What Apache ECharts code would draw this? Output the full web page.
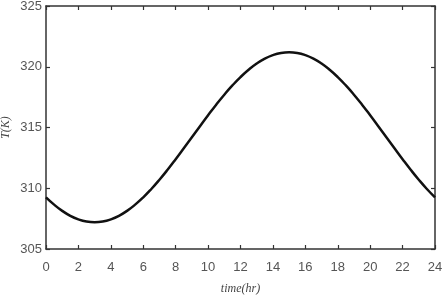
<!DOCTYPE html>
<html>
<head>
<meta charset="utf-8">
<script src="https://cdn.jsdelivr.net/npm/echarts@6/dist/echarts.min.js"></script>
<style>html,body{margin:0;padding:0;background:#fff;}#c{width:442px;height:298px;}</style>
</head>
<body>
<div id="c"></div>
<script>
var hours = [0,0.5,1,1.5,2,2.5,3,3.5,4,4.5,5,5.5,6,6.5,7,7.5,8,8.5,9,9.5,10,10.5,11,11.5,12,12.5,13,13.5,14,14.5,15,15.5,16,16.5,17,17.5,18,18.5,19,19.5,20,20.5,21,21.5,22,22.5,23,23.5,24];
var temps = [309.25,308.65,308.14,307.73,307.44,307.26,307.2,307.26,307.44,307.73,308.14,308.65,309.25,309.94,310.7,311.52,312.39,313.29,314.2,315.11,316.01,316.88,317.7,318.46,319.15,319.75,320.26,320.67,320.96,321.14,321.2,321.14,320.96,320.67,320.26,319.75,319.15,318.46,317.7,316.88,316.01,315.11,314.2,313.29,312.39,311.52,310.7,309.94,309.25];
var xTicks = [0,2,4,6,8,10,12,14,16,18,20,22,24];
var yTicks = [305,310,315,320,325];
var xTitle = 'time(hr)';
var yTitle = 'T(K)';

var chart = echarts.init(document.getElementById('c'), null, {renderer:'canvas'});
var axisLine = {show:true, onZero:false, lineStyle:{color:'#333', width:1.5}};
var tickIn = {show:true, inside:true, length:4, lineStyle:{color:'#333', width:1.2}};
var labelStyle = {color:'#555', fontFamily:'Liberation Sans Narrow, Arial Narrow, Liberation Sans, sans-serif', fontSize:13};
chart.setOption({
  animation:false,
  backgroundColor:'#fff',
  grid:{left:46, top:6, right:7, bottom:49, containLabel:false, outerBoundsMode:'none'},
  xAxis:[{
    type:'value', position:'bottom', min:xTicks[0], max:xTicks[xTicks.length-1], interval:2,
    axisLine:axisLine, axisTick:tickIn, splitLine:{show:false},
    axisLabel:Object.assign({margin:12}, labelStyle),
    name:xTitle, nameLocation:'middle', nameGap:34, nameMoveOverlap:false,
    nameTextStyle:{fontFamily:'Liberation Serif, Times New Roman, serif', fontStyle:'italic', fontSize:12, color:'#444'}
  },{
    type:'value', position:'top', min:0, max:24, interval:2,
    axisLine:axisLine, axisTick:tickIn, axisLabel:{show:false}, splitLine:{show:false}
  }],
  yAxis:[{
    type:'value', position:'left', min:yTicks[0], max:yTicks[yTicks.length-1], interval:5,
    axisLine:axisLine, axisTick:tickIn, splitLine:{show:false},
    axisLabel:Object.assign({margin:4}, labelStyle),
    name:yTitle, nameLocation:'middle', nameGap:34, nameRotate:90, nameMoveOverlap:false,
    nameTextStyle:{fontFamily:'Liberation Serif, Times New Roman, serif', fontStyle:'italic', fontSize:12, color:'#444'}
  },{
    type:'value', position:'right', min:305, max:325, interval:5,
    axisLine:axisLine, axisTick:tickIn, axisLabel:{show:false}, splitLine:{show:false}
  }],
  series:[{
    type:'line', smooth:true, showSymbol:false, xAxisIndex:0, yAxisIndex:0,
    data: hours.map(function(h,i){return [h, temps[i]];}),
    lineStyle:{color:'#111', width:2.5}
  }]
});
</script>
</body>
</html>
